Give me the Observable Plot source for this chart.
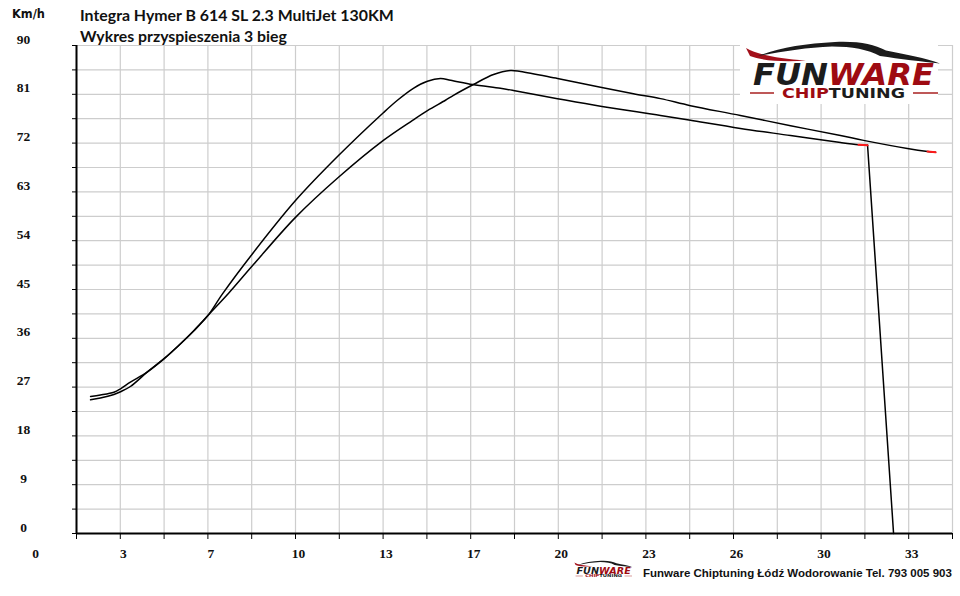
<!DOCTYPE html>
<html><head><meta charset="utf-8">
<script src="https://cdn.jsdelivr.net/npm/d3@7"></script>
<script src="https://cdn.jsdelivr.net/npm/@observablehq/plot@0.6"></script>
<style>
html,body{margin:0;padding:0;background:#fff;}
#wrap{position:relative;width:960px;height:596px;overflow:hidden;background:#fff;}
#wrap svg.overlay{position:absolute;left:0;top:0;pointer-events:none;}
</style></head><body>
<div id="wrap"></div>
<script>
// ---- data (time in s, speed in km/h) ----
const timeA  = [2.18, 2.55, 3.06, 3.31, 3.68, 4.31, 4.94, 5.57, 6.07, 6.60, 7.15, 8.28, 9.90, 11.52, 13.21, 13.74, 14.34, 14.87, 15.36, 15.74, 16.57, 17.62, 18.11, 19.77, 21.39, 23.65, 24.78, 26.66, 28.55, 30.43, 31.11, 31.45];
const speedA = [24.66, 24.97, 25.64, 26.15, 27.11, 29.75, 32.2, 35.0, 37.4, 40.2, 44.2, 51.6, 61.4, 69.7, 77.6, 79.9, 82.1, 83.4, 83.9, 83.6, 82.8, 82.1, 81.7, 80.2, 78.8, 77.1, 76.2, 74.7, 73.4, 72.1, 71.7, 71.6];
const timeB  = [2.18, 2.55, 3.06, 3.31, 3.68, 4.31, 4.94, 5.57, 6.07, 6.60, 7.38, 8.30, 9.90, 11.52, 13.21, 14.31, 14.87, 15.55, 15.85, 16.60, 17.36, 18.00, 18.38, 19.77, 21.39, 22.63, 23.65, 24.78, 26.66, 28.55, 30.43, 31.30, 32.95, 33.71, 34.01];
const speedB = [25.27, 25.54, 26.06, 26.69, 27.9, 29.75, 32.2, 35.0, 37.4, 40.2, 44.3, 49.5, 58.3, 65.7, 72.5, 76.2, 78.0, 79.9, 80.8, 82.8, 84.65, 85.4, 85.2, 83.9, 82.3, 81.1, 80.2, 78.9, 77.1, 75.2, 73.4, 72.5, 71.0, 70.45, 70.3];
// drop at the end of series A
const dropTime  = [31.45, 32.43];
const dropSpeed = [71.6, 0];
// red end segments
const tipTimeA  = [31.11, 31.45];
const tipSpeedA = [71.7, 71.6];
const tipTimeB  = [33.71, 34.01];
const tipSpeedB = [70.45, 70.3];
// axes
const xDomain = [1.65, 34.65];
const yDomain = [0, 90];
const xGrid = d3.range(1, 22).map(k => +(k * 1.65).toFixed(2));
const yGrid = d3.range(0, 21).map(k => k * 4.5);
const xTickVals   = [0, 3.3, 6.6, 9.9, 13.2, 16.5, 19.8, 23.1, 26.4, 29.7, 33.0];
const xTickLabels = ["0", "3", "7", "10", "13", "17", "20", "23", "26", "30", "33"];
const yTickVals   = [0, 9, 18, 27, 36, 45, 54, 63, 72, 81, 90];
const yTickLabels = ["0", "9", "18", "27", "36", "45", "54", "63", "72", "81", "90"];

const toRows = (ts, vs) => ts.map((t, i) => ({t, v: vs[i]}));
const seriesA = toRows(timeA, speedA);
const seriesB = toRows(timeB, speedB);
const drop = toRows(dropTime, dropSpeed);
const tipA = toRows(tipTimeA, tipSpeedA);
const tipB = toRows(tipTimeB, tipSpeedB);

const labelFont = {fontWeight: "bold", fontSize: 13.5, fontFamily: "Liberation Serif", fill: "#111"};
const gridStyle = {stroke: "#cdcdcd", strokeWidth: 1.2};

const chart = Plot.plot({
  width: 960, height: 596,
  marginLeft: 76, marginRight: 8, marginTop: 45, marginBottom: 63,
  x: {domain: xDomain, axis: null},
  y: {domain: yDomain, axis: null},
  style: {background: "white", overflow: "visible"},
  marks: [
    Plot.ruleX(xGrid, {x: d => d, ...gridStyle}),
    Plot.ruleY(yGrid, {y: d => d, ...gridStyle}),
    Plot.axisX(xGrid, {anchor: "bottom", tickSize: 6, tickFormat: () => "", label: null, stroke: "#000"}),
    Plot.axisY(yGrid, {anchor: "left", tickSize: 4, tickFormat: () => "", label: null, stroke: "#000"}),
    Plot.ruleX([xDomain[0]], {stroke: "#000", strokeWidth: 2}),
    Plot.ruleY([0], {stroke: "#000", strokeWidth: 2}),
    Plot.line(seriesA, {x: "t", y: "v", stroke: "#000", strokeWidth: 1.5, curve: "catmull-rom"}),
    Plot.line(seriesB, {x: "t", y: "v", stroke: "#000", strokeWidth: 1.5, curve: "catmull-rom"}),
    Plot.line(drop, {x: "t", y: "v", stroke: "#000", strokeWidth: 1.5}),
    Plot.line(tipA, {x: "t", y: "v", stroke: "#ff1a1a", strokeWidth: 2}),
    Plot.line(tipB, {x: "t", y: "v", stroke: "#ff1a1a", strokeWidth: 2}),
    Plot.text(yTickVals, {y: d => d, text: (d, i) => yTickLabels[i], frameAnchor: "left", dx: -53, dy: -2, textAnchor: "middle", lineAnchor: "bottom", ...labelFont}),
    Plot.text(xTickVals, {x: d => d, text: (d, i) => xTickLabels[i], frameAnchor: "bottom", dx: 3, dy: 24, textAnchor: "middle", lineAnchor: "bottom", ...labelFont})
  ]
});
const wrap = document.getElementById("wrap");
wrap.appendChild(chart);

// ---- decorations: titles, logo, caption ----
const ns = "http://www.w3.org/2000/svg";
const ov = document.createElementNS(ns, "svg");
ov.setAttribute("class", "overlay");
ov.setAttribute("width", 960);
ov.setAttribute("height", 596);
ov.innerHTML = `
<defs>
 <g id="logo">
  <path d="M746 48 C758 55 778 58.5 806 60.5 C785 62 763 61 750 56 Z" fill="#a3101a"/>
  <path d="M758 56 C778 48 805 43.5 835 42 C860 41 873 44.5 886 50.5 C906 54.5 926 58 940 63.5 C922 61.5 900 59 880 56 C868 49.5 852 46.5 832 46.5 C806 47.5 782 51.5 758 56 Z" fill="#1b1b1b"/>
  <text x="753" y="85" font-family="DejaVu Sans" font-weight="bold" font-style="italic" font-size="30" textLength="181" lengthAdjust="spacingAndGlyphs"><tspan fill="#1c1c1c">FUN</tspan><tspan fill="#9e0b12">WARE</tspan></text>
  <line x1="750" y1="93" x2="774" y2="93" stroke="#a82020" stroke-width="1.5"/>
  <line x1="913" y1="93" x2="938" y2="93" stroke="#a82020" stroke-width="1.5"/>
  <text x="782" y="98" font-family="DejaVu Sans" font-weight="bold" font-size="13.5" textLength="123" lengthAdjust="spacingAndGlyphs"><tspan fill="#9e0b12">CHIP</tspan><tspan fill="#1c1c1c">TUNING</tspan></text>
 </g>
</defs>
<text class="fit" data-w="33" x="12" y="18" font-family="DejaVu Sans" font-weight="bold" font-size="11" fill="#111">Km/h</text>
<text class="fit" data-w="314" x="80" y="21" font-family="Lato" font-weight="bold" font-size="15.5" fill="#111">Integra Hymer B 614 SL 2.3 MultiJet 130KM</text>
<text class="fit" data-w="207" x="80" y="42" font-family="Lato" font-weight="bold" font-size="15.5" fill="#111">Wykres przyspieszenia 3 bieg</text>
<rect x="740" y="38" width="198" height="66" fill="#fff"/>
<use href="#logo"/>
<use href="#logo" transform="translate(575,561) scale(0.3) translate(-748,-43)"/>
<text class="fit" data-w="309" x="643" y="577" font-family="Liberation Sans" font-weight="bold" font-size="10.5" fill="#111">Funware Chiptuning Łódź Wodorowanie Tel. 793 005 903</text>
`;
wrap.appendChild(ov);
// fit the decorative texts to their widths in the reference
ov.querySelectorAll("text.fit").forEach(t => {
  const target = +t.dataset.w;
  const fs = +t.getAttribute("font-size");
  const w = t.getComputedTextLength();
  if (w > 0) t.setAttribute("font-size", (fs * target / w).toFixed(2));
});
</script>
</body></html>
